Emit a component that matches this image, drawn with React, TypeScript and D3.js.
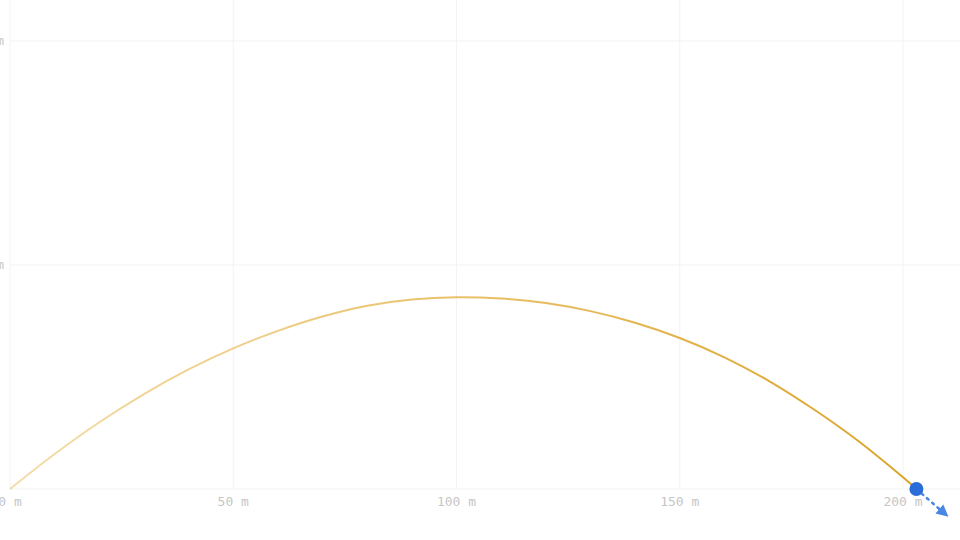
// App.tsx
import React, { useEffect, useRef } from "react";
import * as d3 from "d3";

// trajectory samples (metres)
const distances = [0, 10, 20, 30, 40, 50, 60, 70, 80, 90, 100, 110, 120, 130, 140, 150, 160, 170, 180, 190, 200, 203];
const heights = [0, 7.8, 14.9, 21.2, 26.7, 31.4, 35.3, 38.5, 40.9, 42.3, 42.8, 42.5, 41.5, 39.7, 37.1, 33.7, 29.4, 24.1, 17.8, 10.7, 2.6, 0];

const xTicks = [0, 50, 100, 150, 200];
const yTicks = [0, 50, 100];

// velocity arrow length at landing (metres, along the path direction)
const arrowLength = 9.5;

const W = 960,
  H = 540;

const App: React.FC = () => {
  const ref = useRef<SVGSVGElement | null>(null);

  useEffect(() => {
    const svg = d3.select(ref.current);
    svg.selectAll("*").remove();

    const x = d3.scaleLinear().domain([0, 200]).range([10, 903]);
    const y = d3.scaleLinear().domain([0, 100]).range([489, 41]);

    const font = "'DejaVu Sans Mono', monospace";

    // gradient for the path
    const defs = svg.append("defs");
    const grad = defs
      .append("linearGradient")
      .attr("id", "trail")
      .attr("gradientUnits", "userSpaceOnUse")
      .attr("x1", x(0))
      .attr("x2", x(distances[distances.length - 1]))
      .attr("y1", 0)
      .attr("y2", 0);
    grad.append("stop").attr("offset", 0).attr("stop-color", "#e3a92c").attr("stop-opacity", 0.4);
    grad.append("stop").attr("offset", 1).attr("stop-color", "#dba327").attr("stop-opacity", 1);

    // grid
    svg
      .append("g")
      .selectAll("line")
      .data(xTicks)
      .enter()
      .append("line")
      .attr("x1", (d) => x(d))
      .attr("x2", (d) => x(d))
      .attr("y1", 0)
      .attr("y2", y(0))
      .attr("stroke", "#f3f3f3")
      .attr("stroke-width", 1);

    svg
      .append("g")
      .selectAll("line")
      .data(yTicks)
      .enter()
      .append("line")
      .attr("x1", x(0))
      .attr("x2", W)
      .attr("y1", (d) => y(d))
      .attr("y2", (d) => y(d))
      .attr("stroke", "#f3f3f3")
      .attr("stroke-width", 1);

    // x labels
    svg
      .append("g")
      .selectAll("text")
      .data(xTicks)
      .enter()
      .append("text")
      .attr("x", (d) => x(d))
      .attr("y", y(0) + 17)
      .attr("text-anchor", "middle")
      .style("font-family", font)
      .style("font-size", "13px")
      .attr("fill", "#c6c6c6")
      .text((d) => `${d} m`);

    // y labels (mostly clipped at the left edge, as in the source)
    svg
      .append("g")
      .selectAll("text")
      .data(yTicks.filter((d) => d > 0))
      .enter()
      .append("text")
      .attr("x", 4)
      .attr("y", (d) => y(d) + 4)
      .attr("text-anchor", "end")
      .style("font-family", font)
      .style("font-size", "13px")
      .attr("fill", "#c6c6c6")
      .text((d) => `${d} m`);

    // trajectory
    const pts: [number, number][] = distances.map((d, i) => [d, heights[i]]);
    const line = d3
      .line<[number, number]>()
      .x((d) => x(d[0]))
      .y((d) => y(d[1]))
      .curve(d3.curveCatmullRom);

    svg
      .append("path")
      .datum(pts)
      .attr("d", line)
      .attr("fill", "none")
      .attr("stroke", "url(#trail)")
      .attr("stroke-width", 2);

    // velocity arrow at landing
    const n = pts.length;
    const [lx, ly] = pts[n - 1];
    const [px, py] = pts[n - 2];
    const dx = lx - px,
      dy = ly - py;
    const len = Math.hypot(dx, dy);
    const tx = lx + (dx / len) * arrowLength;
    const ty = ly + (dy / len) * arrowLength;

    const sx = x(lx),
      sy = y(ly),
      ex = x(tx),
      ey = y(ty);
    const ang = Math.atan2(ey - sy, ex - sx);
    const head = 12;
    const bx = ex - Math.cos(ang) * head;
    const by = ey - Math.sin(ang) * head;

    svg
      .append("line")
      .attr("x1", sx)
      .attr("y1", sy)
      .attr("x2", bx)
      .attr("y2", by)
      .attr("stroke", "#4a86e3")
      .attr("stroke-width", 2.5)
      .attr("stroke-dasharray", "2 5")
      .attr("stroke-linecap", "round");

    const perp = ang + Math.PI / 2;
    const hw = 6;
    svg
      .append("path")
      .attr(
        "d",
        `M${ex},${ey}L${bx + Math.cos(perp) * hw},${by + Math.sin(perp) * hw}L${bx - Math.cos(perp) * hw},${by - Math.sin(perp) * hw}Z`,
      )
      .attr("fill", "#4a86e3");

    // ball
    svg
      .append("circle")
      .attr("cx", sx)
      .attr("cy", sy)
      .attr("r", 7)
      .attr("fill", "#2a6dd8");
  }, []);

  return (
    <svg
      ref={ref}
      width={W}
      height={H}
      style={{ position: "fixed", left: 0, top: 0, background: "#fff" }}
    />
  );
};

export default App;
